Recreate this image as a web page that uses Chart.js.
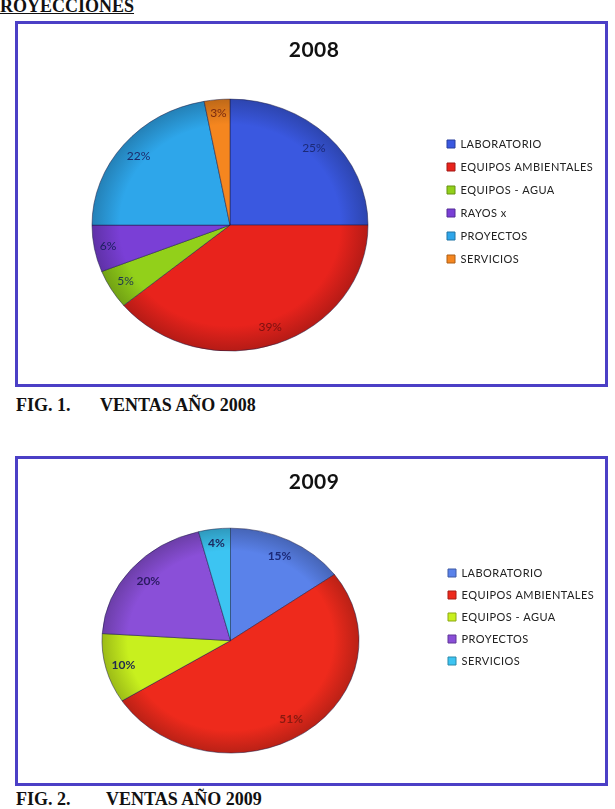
<!DOCTYPE html>
<html lang="es">
<head>
<meta charset="utf-8">
<title>Proyecciones - Ventas 2008 y 2009</title>
<script src="https://cdn.jsdelivr.net/npm/chart.js@4.4.1/dist/chart.umd.min.js"></script>
<style>
    body {
        margin: 0;
        width: 615px;
        height: 809px;
        background: #ffffff;
        position: relative;
        overflow: hidden;
        font-family: "Liberation Serif", "Times New Roman", serif;
        color: #111;
    }
    .encabezado {
        position: absolute;
        left: 0;
        top: -3px;
        font-size: 18px;
        line-height: 18px;
        font-weight: bold;
        text-decoration: underline;
    }
    .marco {
        position: absolute;
        left: 15px;
        width: 587px;
        border: 3px solid #4b3fc6;
        background: #ffffff;
    }
    .marco canvas { display: block; }
    .leyenda-fig {
        position: absolute;
        font-size: 18px;
        line-height: 18px;
        font-weight: bold;
        white-space: nowrap;
    }
</style>
</head>
<body>

<div class="encabezado">ROYECCIONES</div>

<div class="marco" style="top: 21px; height: 360px;">
    <canvas id="cvs_torta2008" width="587" height="360"></canvas>
</div>
<div class="leyenda-fig" style="left: 16px; top: 396px;">FIG. 1.</div>
<div class="leyenda-fig" style="left: 100px; top: 396px;">VENTAS AÑO 2008</div>

<div class="marco" style="top: 456px; height: 324px;">
    <canvas id="cvs_torta2009" width="587" height="324"></canvas>
</div>
<div class="leyenda-fig" style="left: 16px; top: 790px;">FIG. 2.</div>
<div class="leyenda-fig" style="left: 106px; top: 790px;">VENTAS AÑO 2009</div>

<script>
// Ventas por línea de negocio (porcentaje del total)
const categorias2008 = ["LABORATORIO", "EQUIPOS AMBIENTALES", "EQUIPOS - AGUA", "RAYOS x", "PROYECTOS", "SERVICIOS"];
const ventas2008 = [25, 39, 5, 6, 22, 3];

const categorias2009 = ["LABORATORIO", "EQUIPOS AMBIENTALES", "EQUIPOS - AGUA", "PROYECTOS", "SERVICIOS"];
const ventas2009 = [15, 51, 10, 20, 4];

// Colores de cada porción (estilo Office 2007)
const colores2008 = ["#3a58e0", "#e8231c", "#92d01a", "#7a3fd6", "#2ea6ea", "#f5861f"];
const colores2009 = ["#5a82ea", "#ee2a1c", "#c8f01e", "#8a4fd8", "#3cc4f2"];
const coloresTexto2008 = ["#1c2a78", "#7a1010", "#1f3550", "#1c2060", "#1c2a6a", "#7a2a10"];
const coloresTexto2009 = ["#1c2a78", "#8a1a10", "#222a50", "#2a1a60", "#1c2a60"];

// Distancia de cada etiqueta al centro (fracción del radio)
const radiosEtiqueta2008 = [0.86, 0.86, 0.88, 0.9, 0.86, 0.89];
const radiosEtiqueta2009 = [0.84, 0.84, 0.86, 0.83, 0.87];

const ESPACIADO_LEYENDA = "0.45px";
const FUENTE_LEYENDA = 11;

// Oscurece un color hex
function oscurecer(hex, f) {
    const n = parseInt(hex.slice(1), 16);
    const r = Math.round(((n >> 16) & 255) * f);
    const g = Math.round(((n >> 8) & 255) * f);
    const b = Math.round((n & 255) * f);
    return `rgb(${r}, ${g}, ${b})`;
}

// Ancho que Chart.js le dará a la leyenda (para ubicarla igual que el original)
function anchoLeyenda(categorias, padding) {
    const ctx = document.createElement("canvas").getContext("2d");
    ctx.font = `${FUENTE_LEYENDA}px Lato`;
    ctx.letterSpacing = ESPACIADO_LEYENDA;
    const maxTexto = Math.max(...categorias.map(t => ctx.measureText(t).width));
    return padding + 8 + FUENTE_LEYENDA / 2 + maxTexto + 10;
}

// Plugin: achata la torta (efecto 3D) y escribe los porcentajes
function crearPluginElipse(escalaY, radios, coloresTexto, fuente) {
    return {
        id: "elipse",
        beforeLayout(chart) {
            chart.ctx.letterSpacing = ESPACIADO_LEYENDA;
        },
        afterLayout(chart) {
            chart.ctx.letterSpacing = "0px";
        },
        beforeDraw(chart) {
            chart.ctx.letterSpacing = ESPACIADO_LEYENDA;
        },
        beforeDatasetsDraw(chart) {
            const arco = chart.getDatasetMeta(0).data[0];
            const ctx = chart.ctx;
            ctx.letterSpacing = "0px";
            ctx.save();
            ctx.translate(arco.x, arco.y);
            ctx.scale(1, escalaY);
            ctx.translate(-arco.x, -arco.y);
        },
        afterDatasetsDraw(chart) {
            const ctx = chart.ctx;
            ctx.restore();

            const meta = chart.getDatasetMeta(0);
            const valores = chart.data.datasets[0].data;
            ctx.save();
            ctx.font = fuente;
            ctx.textAlign = "center";
            ctx.textBaseline = "middle";
            meta.data.forEach((arco, i) => {
                const medio = (arco.startAngle + arco.endAngle) / 2;
                const r = arco.outerRadius * radios[i];
                const x = arco.x + Math.cos(medio) * r;
                const y = arco.y + Math.sin(medio) * r * escalaY;
                ctx.fillStyle = coloresTexto[i];
                ctx.fillText(valores[i] + "%", x, y);
            });
            ctx.restore();
        }
    };
}

function crearTorta(canvas, cfg) {
    // La leyenda empieza en cfg.inicioLeyenda; lo que sobra va al padding derecho
    const padDer = Math.max(0, canvas.width - cfg.inicioLeyenda - anchoLeyenda(cfg.categorias, cfg.padLeyenda));

    new Chart(canvas, {
        type: "pie",
        data: {
            labels: cfg.categorias,
            datasets: [{
                data: cfg.valores,
                radius: cfg.radio,
                backgroundColor: (contexto) => {
                    const base = cfg.colores[contexto.dataIndex];
                    const area = contexto.chart.chartArea;
                    if (!area) return base;
                    const cx = (area.left + area.right) / 2;
                    const cy = (area.top + area.bottom) / 2;
                    const grad = contexto.chart.ctx.createRadialGradient(cx, cy, 0, cx, cy, cfg.radio);
                    grad.addColorStop(0, base);
                    grad.addColorStop(0.8, base);
                    grad.addColorStop(1, oscurecer(base, 0.78));
                    return grad;
                },
                borderColor: "rgba(30, 30, 70, 0.55)",
                borderWidth: 1
            }]
        },
        options: {
            responsive: false,
            animation: false,
            devicePixelRatio: 1,
            layout: {
                padding: { left: cfg.padIzq, right: padDer, top: 0, bottom: cfg.padAbajo }
            },
            plugins: {
                tooltip: { enabled: false },
                title: {
                    display: true,
                    text: cfg.titulo,
                    color: "#111111",
                    font: { family: "Lato", size: 21, weight: "bold" },
                    padding: { top: cfg.padTitulo, bottom: 22 - cfg.padTitulo }
                },
                legend: {
                    position: "right",
                    labels: {
                        boxWidth: 8,
                        boxHeight: 8,
                        padding: cfg.padLeyenda,
                        color: "#222222",
                        font: { family: "Lato", size: FUENTE_LEYENDA },
                        generateLabels: () => cfg.categorias.map((texto, i) => ({
                            text: texto,
                            fillStyle: cfg.colores[i],
                            strokeStyle: oscurecer(cfg.colores[i], 0.7),
                            lineWidth: 1,
                            fontColor: "#222222",
                            hidden: false,
                            index: i
                        }))
                    }
                }
            }
        },
        plugins: [crearPluginElipse(cfg.escalaY, cfg.radiosEtiqueta, cfg.coloresTexto, cfg.fuenteEtiqueta)]
    });
}

crearTorta(document.getElementById("cvs_torta2008"), {
    titulo: "2008",
    categorias: categorias2008,
    valores: ventas2008,
    colores: colores2008,
    coloresTexto: coloresTexto2008,
    radiosEtiqueta: radiosEtiqueta2008,
    radio: 138,
    escalaY: 0.913,
    padIzq: 7,
    inicioLeyenda: 417,
    padAbajo: 5,
    padTitulo: 14,
    padLeyenda: 12,
    fuenteEtiqueta: "12px Lato"
});

crearTorta(document.getElementById("cvs_torta2009"), {
    titulo: "2009",
    categorias: categorias2009,
    valores: ventas2009,
    colores: colores2009,
    coloresTexto: coloresTexto2009,
    radiosEtiqueta: radiosEtiqueta2009,
    radio: 128.5,
    escalaY: 0.875,
    padIzq: 6,
    inicioLeyenda: 419,
    padAbajo: 8,
    padTitulo: 11,
    padLeyenda: 11,
    fuenteEtiqueta: "bold 12px Lato"
});
</script>
</body>
</html>
